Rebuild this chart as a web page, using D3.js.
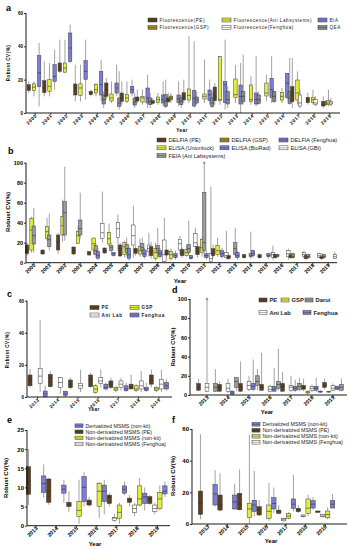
<!DOCTYPE html>
<html>
<head>
<meta charset="utf-8">
<script src="https://cdn.jsdelivr.net/npm/d3@7"></script>
<style>
  body { margin: 0; background: #fff; }
  svg { display: block; }
  text { font-family: "Liberation Sans", Arial, sans-serif; }
</style>
</head>
<body>
<div id="chart"></div>
<script>
// ---- data: [year, method, min, q1, median, q3, max] ----
const yearsAB = d3.range(2000, 2020).map(String)
const yearsCF = d3.range(2013, 2020).map(String)

const methodsA = ["PE", "GSP", "ANI", "FH", "BIA", "QEA"]
const labelsA = ["Fluorescence(PE)", "Fluorescence(GSP)", "Fluorescence(Ani Labsystems)", "Fluorescence(Fenghua)", "BIA", "QEA"]
const boxesA = [
  ["2000","PE",12,13.5,15,17,19], ["2000","ANI",10,13.5,15.5,17.5,19], ["2000","BIA",4,15.8,24,34.4,42],
  ["2001","PE",10,12.2,15,19.4,31], ["2001","ANI",10,13,16,20,30], ["2001","BIA",14,19,22,29,38],
  ["2002","PE",24,25,27,30,44], ["2002","ANI",24,24.5,27,30,44], ["2002","BIA",30,31,39,48,53],
  ["2003","PE",7,10.8,15,17.4,29], ["2003","ANI",7,10.5,15,17.5,29], ["2003","BIA",8,20.2,25,31.4,44],
  ["2004","PE",10,11,12,13,14], ["2004","ANI",10,12,14,17,18], ["2004","BIA",7,10.8,17,24.8,32], ["2004","QEA",3,5.4,8,10.8,13],
  ["2005","PE",8,10,14,18,21], ["2005","ANI",6,7.2,9,11.4,19], ["2005","BIA",10,12,15,18,29], ["2005","QEA",2,4,6,9,25],
  ["2006","PE",5,7,9,12,19], ["2006","ANI",6,7,9,11,19], ["2006","BIA",10,12,14,16,20], ["2006","QEA",3,4.8,6.5,9,12],
  ["2007","PE",6,7.2,8,9.6,14], ["2007","ANI",5,6.6,9,10,14], ["2007","BIA",3,6,9,15,23], ["2007","QEA",3,5,7,9,12],
  ["2008","PE",5,5.8,6.5,7.4,9], ["2008","ANI",5,6.2,8,9.6,12], ["2008","BIA",4,6,8,10.8,19], ["2008","QEA",3,4,7,11,20],
  ["2009","PE",6,6.8,8,9,12], ["2009","GSP",6,7.8,9,10.2,12], ["2009","BIA",4,6.2,8.5,10.8,19], ["2009","QEA",3,5,7,9,11],
  ["2010","PE",6,7.8,10,12.2,20], ["2010","ANI",6,7.8,10.5,14.4,46], ["2010","BIA",3,4.2,9,13.4,43], ["2010","QEA",5,6,8,9.6,13],
  ["2011","ANI",6,8.4,10,11.4,32], ["2011","BIA",5,7.4,11,13.8,20], ["2011","QEA",3,4,6,9,13],
  ["2012","PE",5,7.4,10,15.6,18], ["2012","ANI",5,7.4,8,33.8,34], ["2012","BIA",2,6.2,17,18.8,44], ["2012","QEA",3,5.4,8,12.8,16],
  ["2013","ANI",6,9.4,11,20.4,28.8], ["2013","BIA",0,5.4,10,16.8,30], ["2013","QEA",5,6.8,10,12.8,35],
  ["2014","ANI",5,6.8,8,16.8,22], ["2014","BIA",4,5.4,8,12,34], ["2014","QEA",5,5.8,8,10.8,13],
  ["2015","ANI",7,10.2,12,18,23], ["2015","BIA",6,9.4,14,20.8,34], ["2015","QEA",6,6.8,10,12.8,13],
  ["2016","ANI",6,7.8,10,12.2,15], ["2016","BIA",8,9.4,18,23.8,24], ["2016","QEA",5,5.8,9,12.8,33],
  ["2017","PE",3,6.8,12,15.8,33], ["2017","ANI",5,7.8,12,19.8,25], ["2017","FH",3,4.2,6,10.8,14],
  ["2018","PE",5,6.2,8,9.4,12], ["2018","ANI",5,6.2,8,9.4,14], ["2018","FH",4,5,6,8,10],
  ["2019","PE",3,4.2,5,6.8,10], ["2019","GSP",4,5,6,7,8], ["2019","ANI",4,5,6,7.4,14], ["2019","FH",4,5,6,7,9]
]

const methodsB = ["PE", "GSP", "UL", "FEIA", "BR", "FH", "GBI"]
const labelsB = {PE: "DELFIA (PE)", GSP: "DELFIA (GSP)", FH: "DELFIA (Fenghua)", UL: "ELISA (Unionluck)", BR: "ELISA (BioRad)", GBI: "ELISA (GBI)", FEIA: "FEIA (Ani Labsystems)"}
const legendOrderB = ["PE", "GSP", "FH", "UL", "BR", "GBI", "FEIA"]
const boxesB = [
  ["2000","PE",7,9.3,12,17.7,20], ["2000","UL",10,12.7,32.7,44.3,46], ["2000","FEIA",10,18.7,27,36.7,54.7],
  ["2001","PE",8,8.7,10,12.7,13], ["2001","UL",22,24.4,31,36,45], ["2001","FEIA",12,16,23,27.7,49],
  ["2002","PE",9,12.7,21,27.7,30], ["2002","UL",21,27.7,37,46,63], ["2002","FEIA",22,27.7,50,61,96],
  ["2003","PE",8,8.7,12,15.7,16], ["2003","UL",19,19.4,27,31,37], ["2003","FEIA",24,27.7,34,42.7,70],
  ["2004","PE",7,7.7,10,11,12], ["2004","UL",8,12.7,19,24.7,25], ["2004","FEIA",5,8,12,17,20], ["2004","BR",3,4.4,7,11,14], ["2004","GBI",20,24.4,30,39.4,71],
  ["2005","PE",9,9.7,12,14.7,15], ["2005","UL",16,18.7,24,30,39], ["2005","FEIA",10,12,15,17,20], ["2005","BR",6,7,9,10,11], ["2005","GBI",12,25.4,34,40,48],
  ["2006","PE",6,6.7,14,17.7,20], ["2006","UL",5,8,16,20,22], ["2006","FEIA",6,10,14,18,25], ["2006","BR",2,4.4,8,14.4,17], ["2006","GBI",5,17.7,27,37.7,57],
  ["2007","PE",7,9.4,12,14.4,17], ["2007","UL",6,8.7,12,16,24], ["2007","FEIA",8,12,15,19,25], ["2007","BR",4,6,9,12.7,15], ["2007","GBI",6,11,14,17.7,30],
  ["2008","PE",4,7,12,16,21], ["2008","UL",2,4.4,10,14.4,20], ["2008","FEIA",6,10,14,17,35], ["2008","BR",4,6,9,12,15], ["2008","GBI",0,1,8,22.7,45],
  ["2009","PE",6,7.7,10,12.7,13], ["2009","UL",2,4,8,11,14], ["2009","BR",3,5,7,9,12], ["2009","GBI",8,12.7,19,23.4,27],
  ["2010","PE",5,7,10,13,15], ["2010","UL",6,7,10,13,18], ["2010","FEIA",8,10,14,18,42], ["2010","BR",3,4,5,7,8], ["2010","GBI",8,16,20,29,35],
  ["2011","PE",5,8,11,16,20], ["2011","UL",6,10,15,23,25], ["2011","FEIA",5,12,20,70,100], ["2011","BR",3,5,7,9,12], ["2011","GBI",0,1,4,9,76],
  ["2012","PE",5,7,10,14,18], ["2012","UL",6,8,12,17,25], ["2012","BR",4,6,9,12,15], ["2012","GBI",3,5,7,10,32],
  ["2013","PE",3,4,6,7,9], ["2013","FEIA",5,8,14,20,35], ["2013","BR",3,5,7,10,12],
  ["2014","PE",4,5,6,8,9], ["2014","FEIA",4,6,7,9,31], ["2014","BR",5,7,9,12,13],
  ["2015","PE",4,5,6,8,9], ["2015","BR",4,6,7,9,10], ["2015","GBI",3,5,8,10,17],
  ["2016","PE",4,5,6,8,9], ["2016","GSP",5,6,7,8,9], ["2016","GBI",3,6,9,12,14],
  ["2017","PE",4,5,6,8,9], ["2017","GSP",4,5,6,9,10], ["2017","GBI",4,6,8,10,12],
  ["2018","PE",3,4,5,7,8], ["2018","GSP",4,5,6,8,9], ["2018","GBI",5,5,7,9,10],
  ["2019","PE",3,4,5,6,7], ["2019","GSP",4,5,6,8,9], ["2019","GBI",4,4,6,8,11]
]
// single extreme points drawn as markers: [year, method, value]
const outliersB = [["2011", "FEIA", 100]]

const methodsC = ["PE", "GSP", "AL", "FH"]
const labelsC = {PE: "PE", GSP: "GSP", AL: "Ani Lab", FH: "Fenghua"}
const boxesC = [
  ["2013","PE",6,7,10.6,13.7,17.5], ["2013","AL",3,8.5,13,17.9,48], ["2013","FH",0,0.2,2,3.7,7],
  ["2014","PE",6,6.4,12,14.1,16], ["2014","AL",2,5.8,9,12,12.5], ["2014","FH",0,1,2,3.5,4],
  ["2015","PE",5,5.8,8,10.6,12], ["2015","AL",3,5.4,7,8.5,17],
  ["2016","PE",6,6.4,11,13.7,15], ["2016","GSP",2,2.9,5,7,8], ["2016","AL",6,8.5,10,12,17], ["2016","FH",4,5,6,8,9],
  ["2017","PE",5,6,8,10,12], ["2017","GSP",3,4,5,6,7], ["2017","AL",4,6,8,10,12], ["2017","FH",3,4,5,7,9],
  ["2018","PE",5,5,6,8,14], ["2018","GSP",3,4,5,7,8], ["2018","AL",3,5,7,10,16], ["2018","FH",3,4,5,6,9],
  ["2019","PE",6,8,10,13.7,17], ["2019","GSP",3,4,5,6,7], ["2019","AL",3,5,8,11,17], ["2019","FH",4,5,7,9,11]
]

const methodsD = ["PE", "GSP", "AL", "FH", "DR"]
const labelsD = {PE: "PE", GSP: "GSP", DR: "Darui", AL: "Ani Lab", FH: "Fenghua"}
const boxesD = [
  ["2013","PE",4,5,8,12,17], ["2013","AL",3,4,8,12,100], ["2013","DR",3,4,8,12,27],
  ["2014","PE",3,4,8,11,14], ["2014","AL",2,4,7,12,17], ["2014","FH",0,1,2,4,5], ["2014","DR",4,8,14,18,18],
  ["2015","PE",3,4,8,12,35], ["2015","AL",4,6,10,14,20], ["2015","FH",4,6,9,12,37], ["2015","DR",5,10,14,20,27],
  ["2016","PE",4,5,8,11,44], ["2016","AL",3,4,6,9,11], ["2016","FH",3,4,6,9,28], ["2016","DR",5,7,11,14,48],
  ["2017","PE",3,4,9,12,24], ["2017","AL",3,5,8,10,20], ["2017","FH",3,5,7,9,16], ["2017","DR",4,6,9,12,18],
  ["2018","PE",4,6,8,10,17], ["2018","GSP",1,2,3,4,5], ["2018","AL",3,5,7,9,11], ["2018","FH",3,5,7,9,18], ["2018","DR",2,3,3.5,4,5],
  ["2019","PE",6,8,10,13,17], ["2019","GSP",2,3,3.5,4,4], ["2019","AL",4,5,7,10,12], ["2019","FH",5,6,7,9,10], ["2019","DR",4,5,8,11,17]
]
const outliersD = [["2013", "AL", 100]]

const methodsE = ["PE", "FH", "NK", "DV"]
const labelsE = {DV: "Derivatized  MSMS (non-kit)", PE: "Non-derivatized  MSMS (PE)", NK: "Non-derivatized  MSMS (non-kit)", FH: "Non-derivatized  MSMS (Fenghua)"}
const legendOrderE = ["DV", "PE", "NK", "FH"]
const boxesE = [
  ["2013","PE",5.4,8.2,11.5,15.4,20], ["2013","DV",7.3,8.7,11,13,16],
  ["2014","PE",5.5,6.1,9,12.2,12.5], ["2014","DV",6,8.5,9.5,10.6,12],
  ["2015","PE",3.5,5,5.5,6.1,9], ["2015","NK",0.5,2.4,4,6.3,12], ["2015","DV",5,6.3,10,12.8,14],
  ["2016","PE",5,5.4,6,6.7,7.5], ["2016","NK",2,5,9,11,11.5], ["2016","DV",3,6.3,9,10.6,12],
  ["2017","PE",5,5.8,7.5,8,8.5], ["2017","FH",1,1.3,2,2.2,3], ["2017","NK",0.5,1.9,3.5,5.4,6], ["2017","DV",8,8.5,9.5,10.4,11.5],
  ["2018","PE",5,6.1,6.7,7.2,8], ["2018","FH",2.5,3.5,4.5,5.4,6], ["2018","NK",5,5.4,7,10.4,12.5], ["2018","DV",4,5.8,7.5,8.5,10],
  ["2019","PE",5.5,5.8,7,7.6,8], ["2019","FH",3,3.7,4.5,5.4,6], ["2019","NK",4,4.5,7,8.7,10.5], ["2019","DV",7.5,8.3,9,10.4,11.5]
]

const boxesF = [
  ["2013","PE",3,6.1,13,20.8,56.7], ["2013","DV",11,12,19,25,34],
  ["2014","PE",8,8.8,12,18.3,32], ["2014","DV",9,9.5,14,18.3,25.5],
  ["2015","PE",8.5,9,12.5,19.4,34.5], ["2015","NK",0,4,9.5,13.1,56.5], ["2015","DV",5,8,12,15,33.5],
  ["2016","PE",5,5.7,9,10.9,15], ["2016","NK",2,3.5,8,12,26], ["2016","DV",7,9.5,13,16.6,23],
  ["2017","PE",6,6.7,8,8.8,12], ["2017","FH",1.5,2,3,3.5,4], ["2017","NK",3,3.5,5,6.7,7.5], ["2017","DV",8,9.9,12.5,15.8,31],
  ["2018","PE",7,7.8,9,9.9,12], ["2018","FH",4,4.6,5,5.7,6], ["2018","NK",5,6.7,10,15.8,18.5], ["2018","DV",9,10.1,12.5,14.7,17],
  ["2019","PE",7,7.4,7.8,8.2,8.5], ["2019","FH",4,4.6,5,6,6.5], ["2019","NK",3,3.9,6,8.2,10.5], ["2019","DV",10,10.1,12.5,14.7,19]
]

// ---- colours ----
const brown = "#5b3f20", olive = "#a38b2b", yellow = "#e2ee3c", white = "#ffffff"
const blue = "#7b7dd6", gray = "#9a9c9c", purple = "#8a6cc8", qea = "#7f8c86"
const colorsA = {PE: brown, GSP: olive, ANI: yellow, FH: white, BIA: blue, QEA: qea}
const colorsB = {PE: brown, GSP: olive, FH: purple, UL: yellow, BR: blue, GBI: white, FEIA: gray}
const colorsC = {PE: brown, GSP: yellow, AL: white, FH: blue}
const colorsD = {PE: brown, GSP: yellow, DR: gray, AL: white, FH: blue}
const colorsE = {DV: blue, PE: brown, NK: yellow, FH: white}

const svg = d3.select("#chart").append("svg")
  .attr("width", 351).attr("height", 550)

function drawPanel(p) {
  const g = svg.append("g")
  const y = d3.scaleLinear().domain(p.yDomain).range([p.y0, p.y1])
  const x = d3.scaleBand().domain(p.years).range(p.xRange)
  const sub = d3.scaleBand().domain(p.methods).range([0, x.bandwidth()])
  const cx = d => x(d[0]) + sub(d[1]) + sub.bandwidth() / 2

  // boxes
  const box = g.append("g").selectAll("g")
    .data(p.boxes)
    .join("g")
    .attr("transform", d => `translate(${cx(d)},0)`)

  box.append("line")
    .attr("y1", d => y(d[2])).attr("y2", d => y(d[6]))
    .style("stroke", "#7a7a7a").style("stroke-width", 0.7)

  box.append("rect")
    .attr("x", -p.boxW / 2).attr("width", p.boxW)
    .attr("y", d => y(d[5]))
    .attr("height", d => Math.max(0.6, y(d[3]) - y(d[5])))
    .style("fill", d => p.colors[d[1]])
    .style("stroke", "#3a3a3a").style("stroke-width", 0.5)

  box.append("line")
    .attr("x1", -p.boxW / 2).attr("x2", p.boxW / 2)
    .attr("y1", d => y(d[4])).attr("y2", d => y(d[4]))
    .style("stroke", "#333").style("stroke-width", 0.6)

  // extreme markers
  g.append("g").selectAll("circle")
    .data(p.outliers || [])
    .join("circle")
    .attr("cx", d => cx(d)).attr("cy", d => y(d[2]))
    .attr("r", 0.9)
    .style("fill", "none").style("stroke", "#555").style("stroke-width", 0.6)

  // axes
  const yAxis = g.append("g")
    .attr("transform", `translate(${p.axisX},0)`)
    .call(d3.axisLeft(y).tickValues(p.yTicks).tickSize(2).tickSizeOuter(0))
  yAxis.select(".domain").attr("d", `M0,${p.y0}V${y(p.yDomain[1])}`).style("stroke-width", 0.9)
  yAxis.selectAll("text")
    .style("font-size", p.tickFont + "px").style("font-weight", "bold")
    .attr("x", -3)
  yAxis.selectAll(".tick line").style("stroke-width", 0.8)

  const xAxis = g.append("g")
    .attr("transform", `translate(0,${p.y0})`)
    .call(d3.axisBottom(x).tickSize(2).tickSizeOuter(0))
  xAxis.select(".domain").attr("d", `M${p.axisX},0H${p.axisEnd}`).style("stroke-width", 0.9)
  xAxis.selectAll(".tick line").style("stroke-width", 0.7)
  xAxis.selectAll("text")
    .style("font-size", p.yearFont + "px").style("font-weight", "bold")
    .style("letter-spacing", p.yearSpacing + "px")
    .attr("text-anchor", "end")
    .attr("dy", 0)
    .attr("transform", `translate(2,${p.yearDrop}) rotate(-45)`)
    .attr("y", 0).attr("x", 0)

  g.append("text")
    .attr("transform", `translate(${p.yTitle[0]},${p.yTitle[1]}) rotate(-90)`)
    .attr("text-anchor", "middle")
    .style("font-size", p.titleFont + "px").style("font-weight", "bold")
    .style("letter-spacing", p.titleSpacing + "px")
    .text("Robust CV(%)")

  g.append("text")
    .attr("x", p.xTitle[0]).attr("y", p.xTitle[1])
    .attr("text-anchor", "middle")
    .style("font-size", p.titleFont + "px").style("font-weight", "bold")
    .style("letter-spacing", p.titleSpacing + "px")
    .text("Year")

  g.append("text")
    .attr("x", p.label[0]).attr("y", p.label[1])
    .style("font-size", "9px").style("font-weight", "bold")
    .text(p.letter)

  // legend
  const leg = g.append("g").selectAll("g")
    .data(p.legend)
    .join("g")
    .attr("transform", (d, i) => `translate(${p.legendPos[i][0]},${p.legendPos[i][1]})`)
  leg.append("rect")
    .attr("x", 0).attr("y", -p.markH / 2)
    .attr("width", p.markW).attr("height", p.markH)
    .style("fill", d => p.colors[d])
    .style("stroke", "#3a3a3a").style("stroke-width", 0.5)
  leg.append("line")
    .attr("x1", 0).attr("x2", p.markW)
    .style("stroke", "#333").style("stroke-width", 0.4)
  leg.append("text")
    .attr("x", p.markW + 2.5).attr("y", p.legendFont * 0.36)
    .style("font-size", p.legendFont + "px")
    .style("font-weight", p.legendBold ? "bold" : "normal")
    .style("letter-spacing", p.legendSpacing + "px")
    .style("fill", "#222")
    .text(d => p.labels[d])
}

// panel a
drawPanel({
  letter: "a", label: [6, 11], boxes: boxesA, methods: methodsA, years: yearsAB, colors: colorsA,
  labels: Object.fromEntries(methodsA.map((m, i) => [m, labelsA[i]])),
  yDomain: [0, 60], yTicks: [0, 20, 40, 60], y0: 113, y1: 13,
  axisX: 26, axisEnd: 340, xRange: [27.5, 337.5], boxW: 3.4,
  tickFont: 4.5, yearFont: 4.6, yearSpacing: 0.6, yearDrop: 3,
  titleFont: 4.6, titleSpacing: 0.5, yTitle: [10, 63], xTitle: [182, 132],
  legend: ["PE", "GSP", "ANI", "FH", "BIA", "QEA"],
  legendPos: [[148, 20], [148, 27.5], [222, 20], [222, 27.5], [318, 20], [318, 27.5]],
  markW: 9, markH: 4, legendFont: 4.6, legendBold: false, legendSpacing: 0.55
})

// panel b
drawPanel({
  letter: "b", label: [8, 154], boxes: boxesB, outliers: outliersB, methods: methodsB, years: yearsAB, colors: colorsB,
  labels: labelsB,
  yDomain: [0, 100], yTicks: [0, 20, 40, 60, 80, 100], y0: 262.7, y1: 162.7,
  axisX: 26, axisEnd: 337, xRange: [26, 336], boxW: 3.4,
  tickFont: 5.5, yearFont: 5.3, yearSpacing: 0, yearDrop: 3,
  titleFont: 6, titleSpacing: 0, yTitle: [10, 212], xTitle: [180, 283],
  legend: legendOrderB,
  legendPos: [[157, 140], [220, 140], [279, 140], [157, 147.8], [220, 147.8], [279, 147.8], [157, 155.6]],
  markW: 9, markH: 4, legendFont: 5.6, legendBold: false, legendSpacing: 0
})

// panel c
drawPanel({
  letter: "c", label: [7, 297], boxes: boxesC, methods: methodsC, years: yearsCF, colors: colorsC,
  labels: labelsC,
  yDomain: [0, 60], yTicks: [0, 20, 40, 60], y0: 397, y1: 300.7,
  axisX: 27, axisEnd: 172, xRange: [27.5, 169], boxW: 4,
  tickFont: 4.5, yearFont: 4.4, yearSpacing: 0.6, yearDrop: 3,
  titleFont: 4.6, titleSpacing: 0.5, yTitle: [9, 350], xTitle: [94, 411],
  legend: ["PE", "GSP", "AL", "FH"],
  legendPos: [[90, 307.5], [130, 307.5], [90, 315], [130, 315]],
  markW: 9, markH: 4, legendFont: 4.6, legendBold: true, legendSpacing: 0.6
})

// panel d
drawPanel({
  letter: "d", label: [172, 293], boxes: boxesD, outliers: outliersD, methods: methodsD, years: yearsCF, colors: colorsD,
  labels: labelsD,
  yDomain: [0, 100], yTicks: [0, 20, 40, 60, 80, 100], y0: 395, y1: 299,
  axisX: 190, axisEnd: 347, xRange: [196.5, 343.5], boxW: 3.8,
  tickFont: 5.5, yearFont: 5.3, yearSpacing: 0, yearDrop: 3,
  titleFont: 5.8, titleSpacing: 0, yTitle: [175, 347], xTitle: [267, 414],
  legend: ["PE", "GSP", "DR", "AL", "FH"],
  legendPos: [[259, 300], [281, 300], [305, 300], [259, 312.5], [303, 312.5]],
  markW: 8, markH: 4, legendFont: 5.8, legendBold: true, legendSpacing: 0
})

// panel e
drawPanel({
  letter: "e", label: [7, 423], boxes: boxesE, methods: methodsE, years: yearsCF, colors: colorsE,
  labels: labelsE,
  yDomain: [0, 25], yTicks: [0, 5, 10, 15, 20, 25], y0: 525.7, y1: 430,
  axisX: 27, axisEnd: 170, xRange: [26, 167.4], boxW: 4.4,
  tickFont: 6, yearFont: 5.5, yearSpacing: 0, yearDrop: 3,
  titleFont: 6, titleSpacing: 0, yTitle: [8, 478], xTitle: [95, 546],
  legend: legendOrderE,
  legendPos: [[75, 425.7], [75, 431.8], [75, 437.9], [75, 444]],
  markW: 8, markH: 3.6, legendFont: 5.3, legendBold: false, legendSpacing: 0
})

// panel f
drawPanel({
  letter: "f", label: [172, 423], boxes: boxesF, methods: methodsE, years: yearsCF, colors: colorsE,
  labels: labelsE,
  yDomain: [0, 60], yTicks: [0, 20, 40, 60], y0: 524, y1: 429,
  axisX: 192, axisEnd: 347, xRange: [198, 335], boxW: 4.4,
  tickFont: 6, yearFont: 5.5, yearSpacing: 0, yearDrop: 3,
  titleFont: 6, titleSpacing: 0, yTitle: [175, 476], xTitle: [271, 543],
  legend: legendOrderE,
  legendPos: [[252, 424.3], [252, 430.3], [252, 436.3], [252, 442.3]],
  markW: 8, markH: 3.6, legendFont: 5.3, legendBold: false, legendSpacing: 0
})
</script>
</body>
</html>
